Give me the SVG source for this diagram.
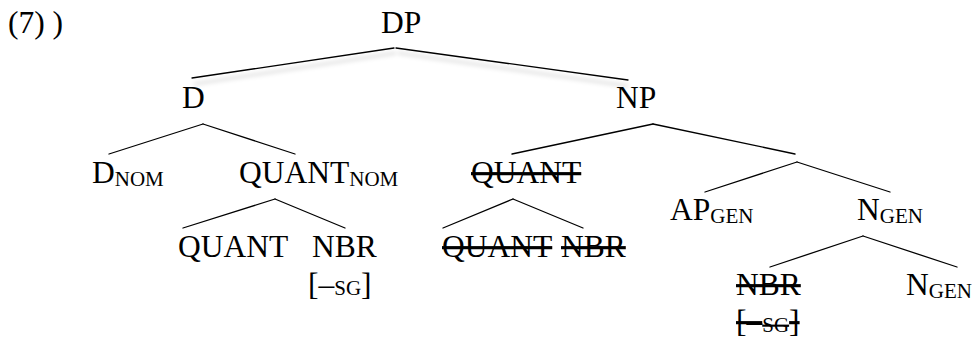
<svg xmlns="http://www.w3.org/2000/svg" width="975" height="340" viewBox="0 0 975 340">
<style>
  text { font-family: "Liberation Serif", "Times New Roman", serif; font-size: 31.5px; fill: #000; }
  .sub { font-size: 21px; }
  .sc { font-size: 21px; }
  .del { text-decoration: line-through; }
  .edge { stroke: #000; stroke-width: 1.3; fill: none; stroke-linecap: round; }
  .shadow { stroke: #000; stroke-opacity: 0.12; stroke-width: 3; fill: none; }
</style>
<defs>
  <filter id="blur" x="-5%" y="-50%" width="110%" height="200%">
    <feGaussianBlur stdDeviation="2"/>
  </filter>
</defs>
<rect width="975" height="340" fill="#fff"/>
<text id="label" x="8" y="33">(7) )</text>
<g id="connectors">
  <g filter="url(#blur)">
    <line class="shadow" x1="396" y1="53" x2="194" y2="84"/>
    <line class="shadow" x1="398" y1="53" x2="628" y2="86"/>
  </g>
  <line class="edge" x1="394" y1="48" x2="192" y2="78"/>
  <line class="edge" x1="396" y1="48" x2="628" y2="80"/>
  <line class="edge" x1="203" y1="124" x2="109" y2="154"/>
  <line class="edge" x1="203" y1="124" x2="295" y2="154"/>
  <line class="edge" x1="275" y1="199" x2="183" y2="228"/>
  <line class="edge" x1="275" y1="199" x2="345" y2="228"/>
  <line class="edge" x1="653" y1="124" x2="512" y2="154"/>
  <line class="edge" x1="653" y1="124" x2="795" y2="154"/>
  <line class="edge" x1="797" y1="162" x2="705" y2="192"/>
  <line class="edge" x1="797" y1="162" x2="890" y2="192"/>
  <line class="edge" x1="513" y1="199" x2="443" y2="228"/>
  <line class="edge" x1="513" y1="199" x2="583" y2="228"/>
  <line class="edge" x1="863" y1="236" x2="770" y2="267"/>
  <line class="edge" x1="863" y1="236" x2="957" y2="267"/>
</g>
<g id="n-dp"><text x="381" y="33">DP</text></g>
<g id="n-d"><text x="182" y="108">D</text></g>
<g id="n-np"><text x="616" y="108">NP</text></g>
<g id="n-dnom"><text x="92" y="183">D<tspan class="sub" dy="3">NOM</tspan></text></g>
<g id="n-quantnom"><text x="239" y="183">QUANT<tspan class="sub" dy="3">NOM</tspan></text></g>
<g id="n-quant-del"><text class="del" x="471" y="183">QUANT</text></g>
<g id="n-apgen"><text x="670" y="220">AP<tspan class="sub" dy="3">GEN</tspan></text></g>
<g id="n-ngen"><text x="857" y="220">N<tspan class="sub" dy="3">GEN</tspan></text></g>
<g id="n-quant"><text x="178" y="257">QUANT</text></g>
<g id="n-nbr"><text x="312" y="257">NBR</text><text x="308" y="295">[–<tspan class="sc">SG</tspan>]</text></g>
<g id="n-quant2-del"><text class="del" x="442" y="257">QUANT</text></g>
<g id="n-nbr2-del"><text class="del" x="561" y="257">NBR</text></g>
<g id="n-nbr3-del"><text class="del" x="736" y="295">NBR</text><text class="del" x="736" y="332">[–<tspan class="sc">SG</tspan>]</text></g>
<g id="n-ngen2"><text x="906" y="295">N<tspan class="sub" dy="3">GEN</tspan></text></g>
</svg>
